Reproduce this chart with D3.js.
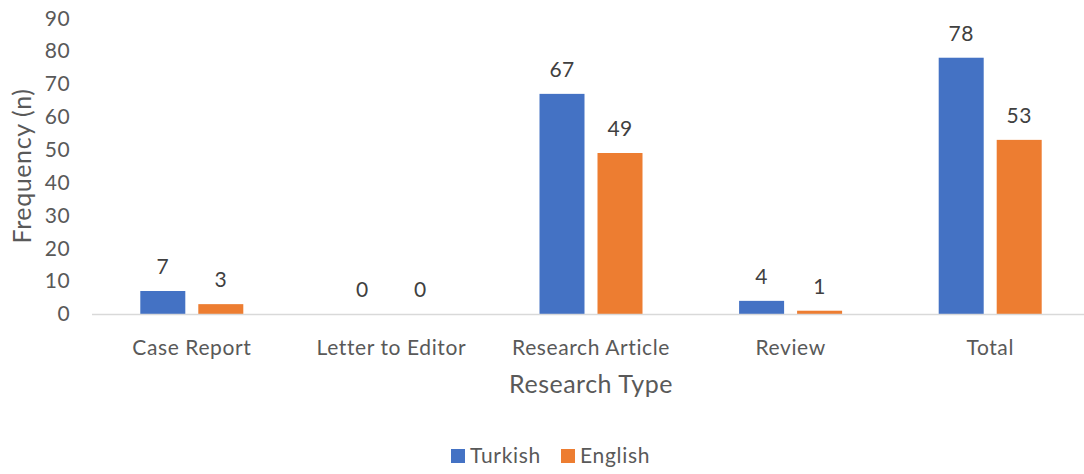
<!DOCTYPE html>
<html>
<head>
<meta charset="utf-8">
<script src="https://cdn.jsdelivr.net/npm/d3@7"></script>
<style>
  html, body { margin: 0; padding: 0; background: #fff; }
  svg { display: block; font-family: Lato, "Open Sans", sans-serif; }
</style>
</head>
<body>
<svg id="chart" width="1084" height="474"></svg>
<script>
const categories = ["Case Report", "Letter to Editor", "Research Article", "Review", "Total"];
const seriesNames = ["Turkish", "English"];
const turkish = [7, 0, 67, 4, 78];
const english = [3, 0, 49, 1, 53];
const yTicks = [0, 10, 20, 30, 40, 50, 60, 70, 80, 90];
const colors = ["#4472C4", "#ED7D31"];

const svg = d3.select("#chart");
const W = 1084, H = 474;
const mLeft = 92, mRight = 1090, mTop = 18.3, mBottom = 314;

const x0 = d3.scaleBand().domain(categories).range([mLeft, mRight]).padding(0);
const bw = x0.bandwidth();
const x1 = d3.scaleBand().domain(seriesNames)
  .range([bw / 2 - 51.5, bw / 2 + 51.5]).paddingInner(13 / 58).paddingOuter(0);
const y = d3.scaleLinear().domain([0, 90]).range([mBottom, mTop]);
const color = d3.scaleOrdinal().domain(seriesNames).range(colors);

const data = categories.map((c, i) => ({ cat: c, values: [
  { s: "Turkish", v: turkish[i] }, { s: "English", v: english[i] } ] }));

// y axis (labels only)
const yAxis = svg.append("g").attr("transform", `translate(${mLeft},0)`)
  .call(d3.axisLeft(y).tickValues(yTicks).tickSize(0).tickPadding(22));
yAxis.select(".domain").remove();
yAxis.selectAll("text").attr("fill", "#595959").attr("font-size", 21)
  .attr("font-family", "Lato, sans-serif").attr("letter-spacing", 0.4);

// bars
const groups = svg.append("g").selectAll("g").data(data).join("g")
  .attr("transform", d => `translate(${x0(d.cat)},0)`);
groups.selectAll("rect").data(d => d.values).join("rect")
  .attr("x", d => x1(d.s))
  .attr("width", x1.bandwidth())
  .attr("y", d => y(d.v))
  .attr("height", d => mBottom - y(d.v))
  .attr("fill", d => color(d.s));
groups.selectAll("text").data(d => d.values).join("text")
  .attr("x", d => x1(d.s) + x1.bandwidth() / 2)
  .attr("y", d => y(d.v) - 17)
  .attr("text-anchor", "middle")
  .attr("font-size", 21)
  .attr("letter-spacing", 0.4)
  .attr("fill", "#404040")
  .text(d => d.v);

// x axis
const xAxis = svg.append("g").attr("transform", `translate(0,${mBottom})`)
  .call(d3.axisBottom(x0).tickSize(0));
xAxis.select(".domain").attr("stroke", "#d9d9d9").attr("stroke-width", 1.5)
  .attr("d", `M${mLeft},0.5H${W}`);
xAxis.selectAll("text").attr("fill", "#595959").attr("font-size", 21)
  .attr("font-family", "Lato, sans-serif").attr("letter-spacing", 0.6)
  .attr("y", 41).attr("dy", 0);

// axis titles
svg.append("text").attr("x", 591).attr("y", 393)
  .attr("text-anchor", "middle").attr("font-size", 25).attr("letter-spacing", 0.5)
  .attr("fill", "#595959").text("Research Type");
svg.append("text").attr("transform", "translate(31,166) rotate(-90)")
  .attr("text-anchor", "middle").attr("font-size", 25).attr("letter-spacing", 0.6)
  .attr("fill", "#595959").text("Frequency (n)");

// legend
const legendPos = [451, 561];
const lg = svg.append("g").selectAll("g").data(seriesNames).join("g")
  .attr("transform", (d, i) => `translate(${legendPos[i]},449)`);
lg.append("rect").attr("width", 14).attr("height", 14).attr("fill", d => color(d));
lg.append("text").attr("x", 19).attr("y", 14).attr("font-size", 21)
  .attr("letter-spacing", 0.7).attr("fill", "#595959").text(d => d);
</script>
</body>
</html>
